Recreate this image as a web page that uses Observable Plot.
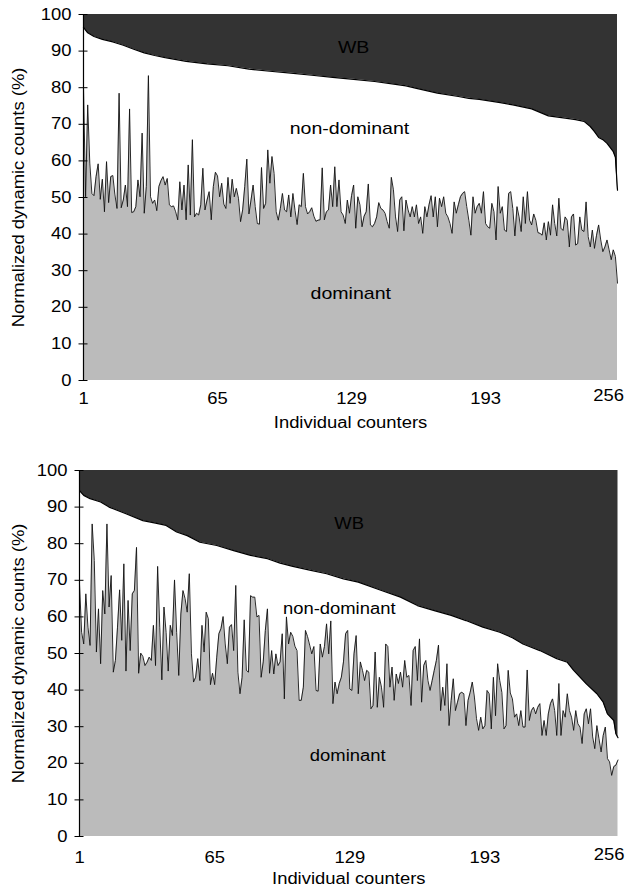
<!DOCTYPE html>
<html><head><meta charset="utf-8">
<script src="https://cdn.jsdelivr.net/npm/d3@7"></script>
<script src="https://cdn.jsdelivr.net/npm/@observablehq/plot@0.6"></script>
<style>
body{margin:0;background:#fff;}
#chart svg{display:block;}
</style>
</head><body><div id="chart"></div>
<script>
const xTicks = [1, 65, 129, 193];
const xLastTick = [256];
const yTicks = [0, 10, 20, 30, 40, 50, 60, 70, 80, 90, 100];
const xTitle = "Individual counters";
const yTitle = "Normalized dynamic counts (%)";

// Panel 1: dominant share per counter (counter 1..256)
const dom1 = [
80,50.2,75.3,59.4,51.1,50.5,55.7,59.2,49.5,55,46.1,59.8,48.6,55.7,56,50.7,47,78.5,47.2,49.3,
53.4,47.5,74.2,45.9,46.1,47.5,54.8,50.2,67.6,45.7,53,83.3,50.2,48.4,49.3,46.4,53,54.6,55.7,53.4,
55.2,48,47.5,47.7,46.1,43.9,54.3,46.6,53.4,43.9,58.9,45.2,65.8,44.7,45.7,45.2,48,58,46.6,49.3,
51.6,43.9,53,56.9,55.9,50.2,53.9,48.2,47,55.5,48.4,55,50.2,52.5,49.8,43.4,46.6,53,60.5,45.5,
49.3,53.4,47.5,42.9,42.7,58.2,47,48.4,63,53.9,61.2,56.6,46.1,43.8,47,51.1,46.6,46.1,50.7,44.7,
51.1,46.5,42.6,48,47.5,56.6,47.5,45.5,46.1,47.2,44.9,43.5,43.8,43.9,58.1,43.9,46.1,46.6,53.4,47.5,
58.4,47.5,54.8,46.1,45.2,42.9,49.3,45.7,50.5,53.4,41.6,50.2,48,42,44.9,46.1,53.7,42.5,42,42.9,
44.7,48.6,47,46.6,45.7,43.4,41.6,55.5,52.1,44.7,40.7,49.3,50.2,40.9,49.3,46.6,44.7,47.5,44.7,48,
42.9,44.7,40.2,47.5,44.7,48,50.5,44.7,50.2,42,49.8,47.5,50.2,45.7,44.7,42.9,40.2,48.8,45.7,48,
50.2,51.1,51.6,47.5,43.8,39.7,50.2,45.7,47.5,48.4,45.7,51.6,42.9,42,41.6,48.4,46.1,38.4,53,45.7,
47.5,41.1,40.7,51.1,51.6,47,39.5,47.5,44.7,40.7,50.2,42.9,51.6,43.8,42.5,45.5,43.8,40.4,40.2,39.7,
43.1,38.4,43.4,39.7,48,42.9,39.5,49.8,41.6,41,44.7,43.8,36.5,44.7,45.5,37,37.4,44.7,41.1,40.7,
48.8,39.3,36.5,41.1,36.1,39.7,42.5,38.4,35.2,36.5,38.4,35.7,33,35.7,33.9,26.6
];
// Panel 1: upper (WB) boundary, read at these counters
const wb1Counter = [1,3,6,10,15,20,25,30,35,40,50,60,70,80,90,100,110,120,130,140,150,155,160,170,180,185,190,200,206,215,223,231,236,240,243,245,247,249,251,253,254,255,256];
const wb1Value   = [96.5,95,94,93.2,92.5,91.6,90.5,89.5,88.8,88.2,87.2,86.5,86,85.1,84.5,84,83.4,82.8,82.3,81.7,80.9,80.5,79.8,78.5,77.6,77.1,76.8,75.9,75.3,74.2,72.3,71.7,71.3,70.8,69.4,68,66.4,65.8,64.8,63.3,62.5,61,52];

// Panel 2: dominant share per counter
const dom2 = [
69,55.8,52.6,66.3,57.2,52.2,85.4,75.4,50.4,62.2,47.2,67.2,60.8,85.4,62.7,71.3,44.9,48.1,57.2,67.4,
53.6,74.5,45.2,64.5,50.8,66.3,67.2,79,44.6,50.1,49.2,46.7,47.6,49,48.1,57.7,46.7,73.8,57.2,42.8,
62.7,55.8,45.2,57.7,54.9,70.1,55.8,44,60.8,67.2,65,61.3,71.8,49.9,42.2,43.5,48.6,42.6,57.7,50.4,
61.3,59.5,41.5,44.6,41.5,49,55.4,56.8,60.1,52.6,47.2,57.2,57.9,50.8,68.6,44.9,39,43.5,59.2,45.4,
44.9,65.8,65.4,65.4,60,60.4,43.5,47.7,56.3,62.2,44.6,50.8,44.4,49.9,46.7,47.7,55.4,37.6,60,52.6,
55.8,54.7,52,50.8,37.2,37.2,40.8,56.3,54.6,52.3,49.9,51.9,39.9,39.7,52.6,49,51.9,58.1,49.9,58.9,
36.3,42.2,39,41.8,43.5,47.7,55.4,56.3,40.3,39.9,49.9,54.9,39,47.7,45.4,42.6,45.4,44.9,34.9,35.8,
50.4,35.3,43.5,40.8,35.3,52.6,51.9,40.8,46.3,37.2,44.4,41.8,44.9,40.8,48.1,43.5,44,35.8,50.8,51.9,
42.6,54,36.7,46.7,48.1,42.6,39.9,42.6,45.4,48.1,52.3,34.4,40.8,35.8,47.2,30.3,37.2,43.1,34.4,36.7,
39,39.4,39,30.3,37.2,39.4,42.2,38.1,32.2,29,32.6,29.4,30.3,39.9,39,29.4,43.5,33,47.2,42.6,
39.4,29.4,30.3,45.4,39.2,37.6,32.6,33.5,30.3,34.4,29.9,29.9,45.5,31.7,34.4,35.3,33.5,35.3,36.3,27.6,
31.7,27.6,33.5,36.3,37.6,34.4,27.6,41.8,27.6,34.4,32.6,39,34.4,32.6,29,34.4,30.8,29.9,25.4,33.5,
34.9,30.8,34.9,27.2,24,30.3,26.7,23.1,27.6,29.9,21.3,20.4,16.7,19.1,19.5,20.9
];
const wb2Counter = [1,3,6,11,15,23,31,37,42,47,52,58,66,74,82,90,96,102,110,118,126,133,144,153,161,169,177,184,192,200,206,211,219,227,232,235,241,246,249,251,254,255,256];
const wb2Value   = [94.5,93.2,92.3,91.4,90,88.2,86.3,85.6,85,83.2,82.2,80.4,79.5,78.1,76.8,75.9,74.7,73.8,72.8,71.8,70.4,69.5,67.2,65.4,63.1,61.7,60.4,59,57.2,55.8,54.3,52.6,50.8,48.6,47.6,45.4,41.7,39,36.7,33.5,31.7,28.1,27];

const regionNames = ["WB", "non-dominant", "dominant"];
const labels1X = [130, 128, 128.6];
const labels1Y = [91, 68.8, 23.8];
const labels2X = [128.7, 124, 128];
const labels2Y = [85.4, 62.2, 22.1];

const FONT = "'Liberation Sans', Arial, Helvetica, sans-serif";

function panel({dom, wbX, wbY, lx, ly, height, marginLeft, marginRight, marginTop, marginBottom,
                fontSize, labelSize, tickPad, titleGap}) {
  const domData = dom.map((v, i) => ({c: i + 1, v}));
  const wbData = wbX.map((c, i) => ({c, v: wbY[i]}));
  const lab = regionNames.map((t, i) => ({t, x: lx[i], y: ly[i]}));
  return Plot.plot({
    width: 626, height, marginLeft, marginRight, marginTop, marginBottom,
    style: {fontFamily: FONT, fontSize: fontSize + "px", color: "#000", background: "#fff", overflow: "visible"},
    x: {domain: [1, 256], axis: null, label: null},
    y: {domain: [0, 100], axis: null, label: null},
    marks: [
      Plot.areaY(wbData, {x: "c", y1: "v", y2: 100, fill: "#333333"}),
      Plot.areaY(domData, {x: "c", y: "v", fill: "#bbbbbb"}),
      Plot.lineY(domData, {x: "c", y: "v", stroke: "#111", strokeWidth: 0.9}),
      Plot.lineY(wbData, {x: "c", y: "v", stroke: "#000", strokeWidth: 1.2}),
      Plot.ruleX([1], {stroke: "#000", strokeWidth: 1.2}),
      Plot.axisY(yTicks, {anchor: "left", tickSize: 9, dx: 4.5, fill: "none", stroke: "#000", label: null}),
      Plot.axisY(yTicks, {anchor: "left", tickSize: 0, tickPadding: 12, fill: "#000", label: null}),
      Plot.axisX(xTicks, {anchor: "bottom", tickSize: 0, tickPadding: tickPad, fill: "#000", label: null}),
      Plot.axisX(xLastTick, {anchor: "bottom", tickSize: 0, tickPadding: tickPad - 3, dx: -9, fill: "#000", label: null}),
      Plot.text([xTitle], {text: d => d, frameAnchor: "bottom", lineAnchor: "middle", dy: titleGap, fill: "#000"}),
      Plot.text([yTitle], {text: d => d, frameAnchor: "left", textAnchor: "middle", lineAnchor: "middle",
                           rotate: -90, dx: 18 - marginLeft, fill: "#000"}),
      Plot.text(lab, {x: "x", y: "y", text: "t", fill: "#000", fontSize: labelSize})
    ]
  });
}

const root = document.getElementById("chart");
const p1 = panel({dom: dom1, wbX: wb1Counter, wbY: wb1Value, lx: labels1X, ly: labels1Y,
  height: 440, marginLeft: 83, marginRight: 9, marginTop: 14, marginBottom: 60,
  fontSize: 16, labelSize: 17, tickPad: 12, titleGap: 42});
const p2 = panel({dom: dom2, wbX: wb2Counter, wbY: wb2Value, lx: labels2X, ly: labels2Y,
  height: 450, marginLeft: 79, marginRight: 8.5, marginTop: 30, marginBottom: 54,
  fontSize: 16, labelSize: 16, tickPad: 15, titleGap: 42});
root.appendChild(p1);
root.appendChild(p2);

// the reference typeface is noticeably wide: stretch glyphs along the text direction
const STRETCH = 1.15;
for (const svg of [p1, p2]) {
  svg.querySelectorAll("text").forEach(t => {
    const len = t.getComputedTextLength();
    if (len > 0) {
      t.setAttribute("textLength", (len * STRETCH).toFixed(2));
      t.setAttribute("lengthAdjust", "spacingAndGlyphs");
    }
  });
}

// white box behind the "WB" label
for (const svg of [p1, p2]) {
  svg.querySelectorAll("text").forEach(t => {
    if (t.textContent === "WB") {
      const b = t.getBBox();
      const r = document.createElementNS("http://www.w3.org/2000/svg", "rect");
      r.setAttribute("x", b.x - 1); r.setAttribute("y", b.y + 1);
      r.setAttribute("width", b.width + 2); r.setAttribute("height", b.height - 2);
      r.setAttribute("fill", "#fff");
      t.parentNode.insertBefore(r, t);
    }
  });
}
</script>
</body></html>
